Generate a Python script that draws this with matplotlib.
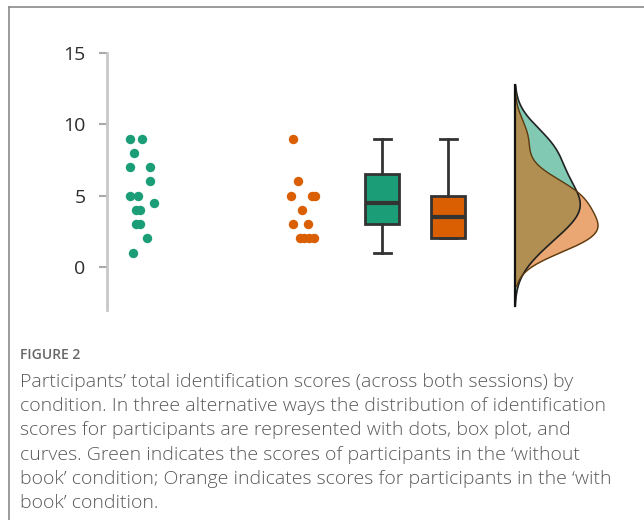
import matplotlib
matplotlib.use("Agg")
import matplotlib.pyplot as plt
import numpy as np
from matplotlib.lines import Line2D

# scores
green_scores = [9, 9, 8, 7, 7, 6, 5, 5, 4.5, 4, 4, 3, 3, 2, 1]
green_jitter = [-10, 2.3, -6, -10, 10, 10, -10, -1.7, 14.3, -3.7, 0.3, -3.7, 0.3, 7.3, -6.7]
orange_scores = [9, 6, 5, 5, 5, 4, 3, 3, 2, 2, 2, 2]
orange_jitter = [-10.3, -4.7, -12, 8.7, 12, -1.3, -9.7, 5.3, -3.3, 1.4, 6, 10.7]

# box plot stats (q1, median, q3, whiskers)
green_box = dict(q1=3, med=4.5, q3=6.5, whislo=1, whishi=9)
orange_box = dict(q1=2, med=3.5, q3=5, whislo=2, whishi=9)

yticks = [0, 5, 10, 15]

caption_title = "FIGURE 2"
caption_lines = [
    "Participants\u2019 total identification scores (across both sessions) by",
    "condition. In three alternative ways the distribution of identification",
    "scores for participants are represented with dots, box plot, and",
    "curves. Green indicates the scores of participants in the \u2018without",
    "book\u2019 condition; Orange indicates scores for participants in the \u2018with",
    "book\u2019 condition.",
]

GREEN = "#1b9e77"
ORANGE = "#d95f02"


def kde(data, bw_adjust=1.0, cut=2.6):
    d = np.asarray(data, float)
    bw = d.std(ddof=1) * len(d) ** (-1 / 5) * bw_adjust
    grid = np.linspace(d.min() - cut * bw, d.max() + cut * bw, 300)
    dens = np.exp(-0.5 * ((grid[:, None] - d[None, :]) / bw) ** 2).sum(axis=1)
    dens /= len(d) * bw * np.sqrt(2 * np.pi)
    return grid, dens


fig = plt.figure(figsize=(6.44, 5.2), dpi=100)
W, H = 644, 520
ax = fig.add_axes([107 / W, (H - 310) / H, (W - 107) / W, 257 / H])
ax.set_xlim(107, 644)
ax.set_ylim(-3.02, 15)

# dots
ax.scatter(140 + np.array(green_jitter), green_scores, s=46, color=GREEN, linewidths=0, zorder=3)
ax.scatter(303 + np.array(orange_jitter), orange_scores, s=46, color=ORANGE, linewidths=0, zorder=3)

# boxes
stats = [green_box, orange_box]
bp = ax.bxp(stats, positions=[382, 448.3], widths=34, showfliers=False, patch_artist=True,
            boxprops=dict(linewidth=2, edgecolor="#333333"),
            whiskerprops=dict(linewidth=2, color="#333333"),
            capprops=dict(linewidth=2, color="#333333"),
            medianprops=dict(linewidth=3, color="#333333"),
            capwidths=17, manage_ticks=False)
for patch, c in zip(bp["boxes"], [GREEN, ORANGE]):
    patch.set_facecolor(c)

# clouds
base = 515
gy, gd = kde(green_scores)
oy, od = kde(orange_scores)
scale = 83 / max(gd.max(), od.max())
ax.fill_betweenx(gy, base, base + gd * scale, color=GREEN, alpha=0.55, linewidth=0)
ax.plot(base + gd * scale, gy, color="#222222", lw=1.2)
ax.fill_betweenx(oy, base, base + od * scale, color=ORANGE, alpha=0.55, linewidth=0)
ax.plot(base + od * scale, oy, color="#5a3a10", lw=1.0)
ax.plot([base, base], [min(gy.min(), oy.min()), max(gy.max(), oy.max())], color="#111111", lw=1.6)

# axis styling
for s in ["top", "right", "bottom"]:
    ax.spines[s].set_visible(False)
ax.spines["left"].set_color("#c8c8c8")
ax.spines["left"].set_linewidth(2)
ax.set_xticks([])
ax.set_yticks(yticks)
ax.tick_params(axis="y", length=6, width=1.5, color="#aaaaaa", pad=9.5, labelsize=14, labelcolor="#2e2e2e")
for lab in ax.get_yticklabels():
    lab.set_family("Open Sans")

# frame lines
fig.add_artist(Line2D([9 / W, 9 / W], [0, 1 - 7 / H], color="#8a8a8a", lw=1.2, transform=fig.transFigure))
fig.add_artist(Line2D([9 / W, 1], [1 - 7 / H, 1 - 7 / H], color="#8a8a8a", lw=1.2, transform=fig.transFigure))

# caption
fig.text(20 / W, 1 - 355 / H, caption_title, family="Open Sans", fontsize=10, color="#666666",
         fontweight="semibold", va="center")
for i, line in enumerate(caption_lines):
    fig.text(20 / W, 1 - (382 + 24.2 * i) / H, line, family="Open Sans", fontsize=14,
             color="#5a5a5a", fontweight="light", va="center")

fig.savefig("out.png", dpi=100)
